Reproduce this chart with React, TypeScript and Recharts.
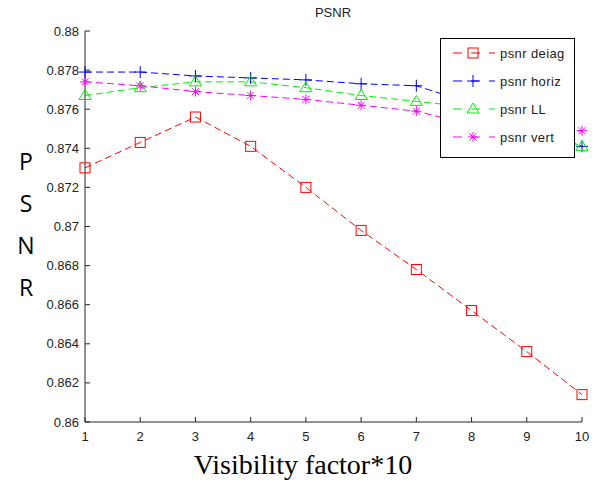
import React from "react";
import { LineChart, Line, XAxis, YAxis } from "recharts";

// visibility factor (x10) on the x axis
const factors = [1, 2, 3, 4, 5, 6, 7, 8, 9, 10];

const psnrDeiag = [0.873, 0.8743, 0.8756, 0.8741, 0.872, 0.8698, 0.8678, 0.8657, 0.8636, 0.8614];
const psnrHoriz = [0.8779, 0.8779, 0.8777, 0.8776, 0.8775, 0.8773, 0.8772, 0.8763, 0.8752, 0.8741];
const psnrLL = [0.8767, 0.8771, 0.8774, 0.8774, 0.8771, 0.8767, 0.8764, 0.8761, 0.8752, 0.8741];
const psnrVert = [0.8774, 0.8772, 0.8769, 0.8767, 0.8765, 0.8762, 0.8759, 0.8752, 0.875, 0.8749];

const yTicks = [0.86, 0.862, 0.864, 0.866, 0.868, 0.87, 0.872, 0.874, 0.876, 0.878, 0.88];

type Shape = "square" | "plus" | "triangle" | "star";

const series: { key: string; name: string; color: string; shape: Shape }[] = [
  { key: "deiag", name: "psnr deiag", color: "#ff0000", shape: "square" },
  { key: "horiz", name: "psnr horiz", color: "#0000ff", shape: "plus" },
  { key: "ll", name: "psnr LL", color: "#00ee00", shape: "triangle" },
  { key: "vert", name: "psnr vert", color: "#ff00ff", shape: "star" },
];

const data = factors.map((f, i) => ({
  factor: f,
  deiag: psnrDeiag[i],
  horiz: psnrHoriz[i],
  ll: psnrLL[i],
  vert: psnrVert[i],
}));

const AXIS = "#262626";
const FONT = "'Liberation Sans', Arial, sans-serif";
const DASH = "7 4";

function Marker({ shape, x, y, color }: { shape: Shape; x: number; y: number; color: string }) {
  switch (shape) {
    case "square":
      return <rect x={x - 5} y={y - 5} width={10} height={10} fill="none" stroke={color} strokeWidth={1} />;
    case "plus":
      return <path d={`M${x - 6},${y}H${x + 6}M${x},${y - 6}V${y + 6}`} stroke={color} strokeWidth={1} fill="none" />;
    case "triangle":
      return <path d={`M${x},${y - 6}L${x + 6},${y + 4}L${x - 6},${y + 4}Z`} stroke={color} strokeWidth={1} fill="none" />;
    default:
      return (
        <path
          d={`M${x - 5},${y}H${x + 5}M${x},${y - 5}V${y + 5}M${x - 3.5},${y - 3.5}L${x + 3.5},${y + 3.5}M${x - 3.5},${y + 3.5}L${x + 3.5},${y - 3.5}`}
          stroke={color}
          strokeWidth={1}
          fill="none"
        />
      );
  }
}

const BottomTick = (p: any) => (
  <g>
    <line x1={p.x} y1={p.y} x2={p.x} y2={p.y - 5} stroke={AXIS} />
    <text x={p.x} y={p.y + 19} textAnchor="middle" fontSize={13} fontFamily={FONT} fill="#222">
      {p.payload.value}
    </text>
  </g>
);

const TopTick = (p: any) => <line x1={p.x} y1={p.y} x2={p.x} y2={p.y + 5} stroke={AXIS} />;

const LeftTick = (p: any) => (
  <g>
    <line x1={p.x} y1={p.y} x2={p.x + 5} y2={p.y} stroke={AXIS} />
    <text x={p.x - 6} y={p.y + 4.5} textAnchor="end" fontSize={13} fontFamily={FONT} fill="#222">
      {String(p.payload.value)}
    </text>
  </g>
);

const RightTick = (p: any) => <line x1={p.x} y1={p.y} x2={p.x - 5} y2={p.y} stroke={AXIS} />;

function LegendBox() {
  return (
    <div
      style={{
        position: "absolute",
        left: 440,
        top: 38,
        width: 135,
        height: 120,
        boxSizing: "border-box",
        border: "1px solid #000",
        background: "#fff",
      }}
    >
      <svg width={133} height={118}>
        {series.map((s, i) => {
          const y = 14 + i * 28;
          return (
            <g key={s.key}>
              <line x1={12} y1={y} x2={54} y2={y} stroke={s.color} strokeDasharray="9 9" strokeDashoffset={0} />
              <Marker shape={s.shape} x={32} y={y} color={s.color} />
              <text x={59} y={y + 4.5} fontSize={13} fontFamily={FONT} fill="#222" letterSpacing={0.4}>
                {s.name}
              </text>
            </g>
          );
        })}
      </svg>
    </div>
  );
}

export default function App() {
  return (
    <div style={{ position: "absolute", left: 0, top: 0, width: 600, height: 485, background: "#fff" }}>
      <LineChart width={600} height={485} data={data} margin={{ top: 31, right: 18, bottom: 0, left: 0 }}>
        <XAxis
          dataKey="factor"
          type="number"
          domain={[1, 10]}
          ticks={factors}
          height={63}
          stroke={AXIS}
          tickLine={false}
          tickSize={0}
          tickMargin={0}
          tick={BottomTick}
          interval={0}
        />
        <XAxis
          xAxisId="top"
          orientation="top"
          dataKey="factor"
          type="number"
          domain={[1, 10]}
          ticks={factors}
          height={0}
          stroke={AXIS}
          tickLine={false}
          tickSize={0}
          tickMargin={0}
          tick={TopTick}
          interval={0}
        />
        <YAxis
          type="number"
          domain={[0.86, 0.88]}
          ticks={yTicks}
          width={85}
          stroke={AXIS}
          tickLine={false}
          tickSize={0}
          tickMargin={0}
          tick={LeftTick}
          interval={0}
        />
        <YAxis
          yAxisId="right"
          orientation="right"
          type="number"
          domain={[0.86, 0.88]}
          ticks={yTicks}
          width={0}
          stroke={AXIS}
          tickLine={false}
          tickSize={0}
          tickMargin={0}
          tick={RightTick}
          interval={0}
        />
        {series.map((s) => (
          <Line
            key={s.key}
            type="linear"
            dataKey={s.key}
            name={s.name}
            stroke={s.color}
            strokeWidth={1}
            strokeDasharray={DASH}
            dot={(p: any) => <Marker key={`${s.key}-${p.index}`} shape={s.shape} x={p.cx} y={p.cy} color={s.color} />}
            activeDot={false}
            isAnimationActive={false}
          />
        ))}
      </LineChart>

      <LegendBox />

      <div
        style={{
          position: "absolute",
          left: 283,
          top: 5,
          width: 100,
          textAlign: "center",
          fontFamily: FONT,
          fontSize: 13,
          lineHeight: "16px",
          color: "#222",
        }}
      >
        PSNR
      </div>

      <div
        style={{
          position: "absolute",
          left: 12,
          top: 140,
          width: 28,
          textAlign: "center",
          fontFamily: "'Open Sans', 'Noto Sans', sans-serif",
          fontSize: 23,
          lineHeight: "42px",
          color: "#000",
        }}
      >
        <div>P</div>
        <div>S</div>
        <div>N</div>
        <div>R</div>
      </div>

      <div
        style={{
          position: "absolute",
          left: 0,
          top: 449,
          width: 606,
          textAlign: "center",
          fontFamily: "'Liberation Serif', 'Times New Roman', serif",
          fontSize: 28,
          lineHeight: "32px",
          color: "#000",
        }}
      >
        Visibility factor*10
      </div>
    </div>
  );
}
